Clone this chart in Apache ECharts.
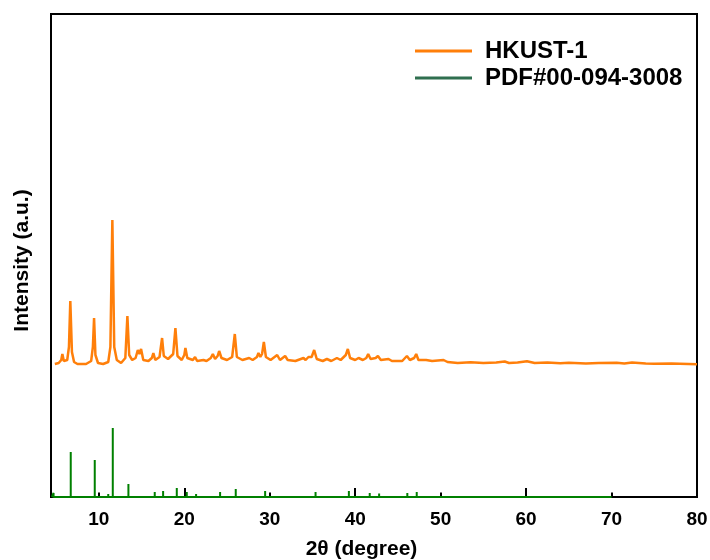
<!DOCTYPE html>
<html>
<head>
<meta charset="utf-8">
<title>HKUST-1 XRD</title>
<script src="https://cdn.jsdelivr.net/npm/echarts@6/dist/echarts.min.js"></script>
<style>
    html, body {margin: 0; padding: 0; background: #fff;}
    #app {width: 710px; height: 560px;}
</style>
</head>
<body>
<div id="app"></div>
<script>
var hkustX = [4.85, 5.3, 5.6, 5.73, 5.9, 6.3, 6.5, 6.66, 6.85, 7.1, 7.5, 8.5, 9.1, 9.3, 9.44, 9.6, 9.9, 10.5,
    11.1, 11.35, 11.58, 11.8, 12.1, 12.6, 13.1, 13.34, 13.55, 13.9, 14.3, 14.56, 14.75, 14.94, 15.2, 15.8,
    16.2, 16.38, 16.6, 17.1, 17.4, 17.6, 18.1, 18.7, 18.96, 19.2, 19.7, 20.0, 20.13, 20.35, 21.0, 21.26,
    21.5, 22.24, 22.6, 23.1, 23.34, 23.6, 23.9, 24.08, 24.35, 25.0, 25.17, 25.6, 25.91, 26.15, 26.8, 27.59,
    28.0, 28.5, 28.68, 28.9, 29.1, 29.31, 29.55, 30.1, 30.87, 31.2, 31.8, 32.1, 33.0, 33.95, 34.2, 34.53,
    34.9, 35.2, 35.5, 36.2, 36.69, 37.2, 37.86, 38.3, 38.9, 39.14, 39.4, 40.0, 40.39, 40.9, 41.3, 41.52,
    41.8, 42.4, 42.66, 43.0, 43.9, 44.3, 45.5, 46.05, 46.4, 46.9, 47.14, 47.4, 48.3, 49.0, 50.34, 50.8,
    52, 53.5, 55, 56.5, 57.5, 58, 59, 60.1, 61, 62.5, 64, 65, 67, 68.5, 70.6, 71.5, 72.4, 74, 75, 77, 80]
var hkustY = [133, 134, 137, 143, 136, 137, 150, 196, 145, 135, 133, 133, 136, 150, 179, 142, 134, 133,
    135, 150, 277, 150, 137, 134, 139, 181, 142, 137, 139, 147, 143, 148, 137, 136,
    139, 144, 137, 140, 159, 141, 138, 143, 169, 141, 137, 142, 149, 139, 137, 140,
    136, 137, 136, 139, 143, 138, 141, 146, 139, 137, 139, 140, 163, 140, 137, 139,
    137, 140, 144, 140, 143, 155, 140, 137, 142, 137, 141, 137, 136, 139, 137, 140,
    140, 147, 138, 136, 138, 136, 139, 137, 142, 148, 139, 137, 139, 137, 139, 143,
    138, 139, 141, 137, 138, 136, 136, 141, 137, 139, 143, 137, 137, 136, 137, 135,
    134, 134.8, 134, 134.6, 135.5, 134, 134.4, 135.8, 134, 134.6, 133.8, 134.2, 133.6, 134.1, 134.2, 133.5, 134.6, 133.4, 133.2, 133.5, 132.7]

// PDF#00-094-3008 reference lines: 2θ and relative height
var pdfX = [4.7, 6.71, 9.52, 11.1, 11.63, 13.46, 14.71, 15.0, 16.54, 17.52, 19.12, 20.29, 21.38, 23.41,
    24.19, 26.02, 27.8, 28.9, 29.46, 30.3, 32.4, 35.36, 37.8, 39.26, 40.2, 41.7, 42.8, 46.1, 47.2,
    50.5, 57.0, 60.6, 63.3, 64.6]
var pdfH = [4, 45, 37, 3, 69, 13, 2, 2, 5, 6, 9, 5, 3, 2,
    5, 8, 2, 2, 6, 2, 1.5, 5, 2, 6, 2, 4, 3.5, 4, 5,
    2, 1.5, 2, 1, 1]
var pdfStart = 4.5
var pdfEnd = 70

var majorTicks = [20, 40, 60, 80]
var minorTicks = [10, 30, 50, 70]
var tickLabels = [10, 20, 30, 40, 50, 60, 70, 80]

var font = 'Arial, "Liberation Sans", sans-serif'

var hkustData = hkustX.map((x, i) => [x, hkustY[i]])

// stick pattern drawn as one line: baseline with vertical spikes
var pdfData = [[pdfStart, 0]]
for (var i = 0; i < pdfX.length; i++) {
    pdfData.push([pdfX[i], 0], [pdfX[i], pdfH[i]], [pdfX[i], 0])
}
pdfData.push([pdfEnd, 0])

var chart = echarts.init(document.getElementById('app'))

chart.setOption({
    animation: false,
    grid: {
        left: 51,
        right: 13,
        top: 14,
        bottom: 63,
        outerBoundsMode: 'none',
        show: true,
        borderColor: '#000',
        borderWidth: 2
    },
    legend: {
        left: 410,
        top: 34,
        orient: 'vertical',
        icon: 'rect',
        itemWidth: 57,
        itemHeight: 3,
        itemGap: 3,
        textStyle: {
            fontFamily: font,
            fontWeight: 'bold',
            fontSize: 24,
            color: '#000',
            padding: [0, 0, 0, 8]
        },
        data: [
            {name: 'HKUST-1', itemStyle: {color: '#ff7f0a'}},
            {name: 'PDF#00-094-3008', itemStyle: {color: '#2f6f4f'}}
        ]
    },
    xAxis: [
        {
            type: 'value',
            min: 4.4,
            max: 80,
            name: '2θ (degree)',
            nameLocation: 'middle',
            nameGap: 42,
            nameTextStyle: {
                fontFamily: font,
                fontWeight: 'bold',
                fontSize: 21,
                color: '#000',
                padding: [0, 25, 0, 0]
            },
            splitLine: {show: false},
            axisLine: {lineStyle: {color: '#000', width: 2}},
            axisTick: {
                inside: true,
                length: 9,
                customValues: majorTicks,
                lineStyle: {color: '#000', width: 2}
            },
            axisLabel: {
                customValues: tickLabels,
                margin: 13,
                fontFamily: font,
                fontWeight: 'bold',
                fontSize: 19,
                color: '#000'
            }
        },
        {
            type: 'value',
            min: 4.4,
            max: 80,
            position: 'bottom',
            splitLine: {show: false},
            axisLine: {show: false},
            axisLabel: {show: false},
            axisTick: {
                inside: true,
                length: 4.5,
                customValues: minorTicks,
                lineStyle: {color: '#000', width: 2}
            }
        }
    ],
    yAxis: {
        type: 'value',
        min: 0,
        max: 483,
        name: 'Intensity (a.u.)',
        nameLocation: 'middle',
        nameGap: 18,
        nameTextStyle: {
            fontFamily: font,
            fontWeight: 'bold',
            fontSize: 21,
            color: '#000',
            padding: [0, 10, 0, 0]
        },
        splitLine: {show: false},
        axisLine: {show: true, lineStyle: {color: '#000', width: 2}},
        axisTick: {show: false},
        axisLabel: {show: false}
    },
    series: [
        {
            name: 'HKUST-1',
            type: 'line',
            symbol: 'none',
            clip: false,
            lineStyle: {color: '#ff7f0a', width: 2.5},
            itemStyle: {color: '#ff7f0a'},
            data: hkustData
        },
        {
            name: 'PDF#00-094-3008',
            type: 'line',
            symbol: 'none',
            clip: false,
            lineStyle: {color: '#008000', width: 2},
            itemStyle: {color: '#008000'},
            data: pdfData
        }
    ]
})
</script>
</body>
</html>
